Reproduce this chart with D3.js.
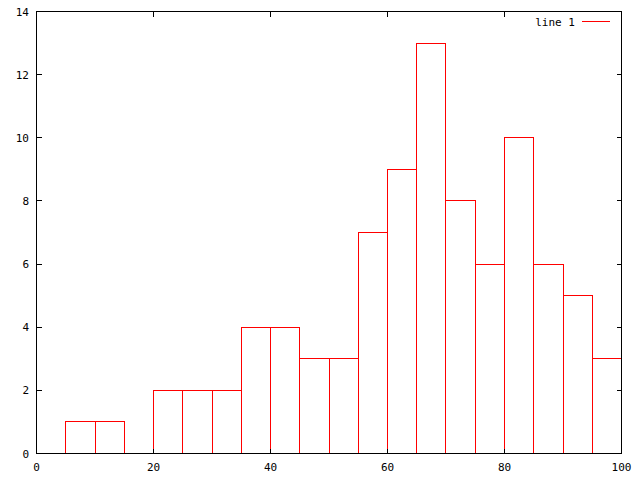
<!DOCTYPE html>
<html>
<head>
<meta charset="utf-8">
<script src="https://cdn.jsdelivr.net/npm/d3@7"></script>
<style>
  body { margin: 0; background: #fff; }
  svg { display: block; }
  text { font-family: "DejaVu Sans Mono", monospace; font-size: 11px; fill: #000; }
</style>
</head>
<body>
<svg class="chart" width="640" height="480"></svg>
<script>
// histogram bins (left edge, width 5) and counts
const binStarts = [5, 10, 15, 20, 25, 30, 35, 40, 45, 50, 55, 60, 65, 70, 75, 80, 85, 90, 95];
const counts    = [1, 1, 0, 2, 2, 2, 4, 4, 3, 3, 7, 9, 13, 8, 6, 10, 6, 5, 3];
const binWidth = 5;
const xTicks = [0, 20, 40, 60, 80, 100];
const yTicks = [0, 2, 4, 6, 8, 10, 12, 14];
const seriesName = "line 1";

// config
const plotLeft = 36.5, plotRight = 621.5, plotTop = 11.5, plotBottom = 453.5;
const tickLen = 5;
const red = "#ff0000";

const svg = d3.select("svg.chart");

const x = d3.scaleLinear().domain([0, 100]).range([plotLeft, plotRight]);
const y = d3.scaleLinear().domain([0, 14]).range([plotBottom, plotTop]);

const snap = v => Math.round(v - 0.5) + 0.5;

// bars (outline only, gnuplot style)
svg.append("g").attr("class", "bars")
  .selectAll("path")
  .data(binStarts.map((s, i) => ({ from: s, to: s + binWidth, n: counts[i] })))
  .enter()
  .append("path")
  .attr("d", d => `M${snap(x(d.from))},${plotBottom}V${snap(y(d.n))}H${snap(x(d.to))}V${plotBottom}`)
  .attr("fill", "none")
  .attr("stroke", red)
  .attr("stroke-width", 1)
  .attr("shape-rendering", "crispEdges");

// ticks (mirrored, inward)
const axes = svg.append("g").attr("class", "axes")
  .attr("stroke", "#000").attr("shape-rendering", "crispEdges");

yTicks.forEach(t => {
  const yy = snap(y(t));
  axes.append("line").attr("x1", plotLeft).attr("x2", plotLeft + tickLen).attr("y1", yy).attr("y2", yy);
  axes.append("line").attr("x1", plotRight - tickLen).attr("x2", plotRight).attr("y1", yy).attr("y2", yy);
});
xTicks.forEach(t => {
  const xx = snap(x(t));
  axes.append("line").attr("x1", xx).attr("x2", xx).attr("y1", plotBottom).attr("y2", plotBottom - tickLen);
  axes.append("line").attr("x1", xx).attr("x2", xx).attr("y1", plotTop).attr("y2", plotTop + tickLen);
});

// frame
axes.append("rect")
  .attr("x", plotLeft).attr("y", plotTop)
  .attr("width", plotRight - plotLeft).attr("height", plotBottom - plotTop)
  .attr("fill", "none");

// tick labels
svg.append("g").selectAll("text")
  .data(yTicks).enter().append("text")
  .attr("x", 29).attr("y", d => y(d) + 4)
  .attr("text-anchor", "end")
  .text(d => d);

svg.append("g").selectAll("text")
  .data(xTicks).enter().append("text")
  .attr("x", d => x(d)).attr("y", 471)
  .attr("text-anchor", "middle")
  .text(d => d);

// legend
svg.append("text")
  .attr("x", 575).attr("y", 26)
  .attr("text-anchor", "end")
  .text(seriesName);
svg.append("line")
  .attr("x1", 582).attr("x2", 610).attr("y1", 21.5).attr("y2", 21.5)
  .attr("stroke", red).attr("shape-rendering", "crispEdges");
</script>
</body>
</html>
